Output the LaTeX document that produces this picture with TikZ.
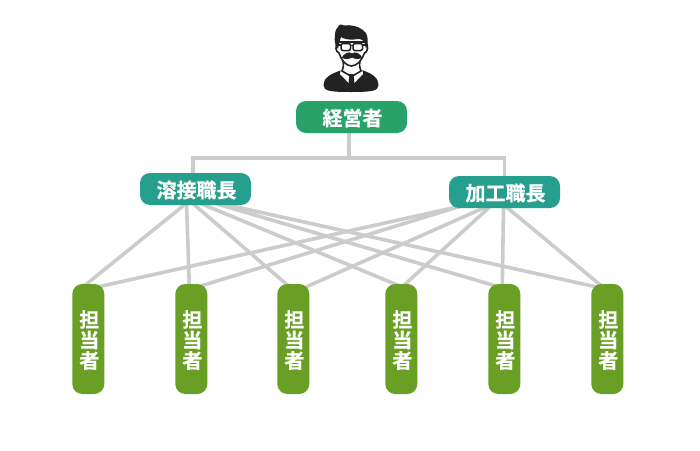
\documentclass[tikz,border=0pt]{standalone}
\usepackage{fontspec}
\newfontfamily\jpf[FakeBold=0.6]{Noto Sans CJK JP Bold}
\usetikzlibrary{calc,backgrounds}
\definecolor{topc}{HTML}{29A26A}
\definecolor{midc}{HTML}{279F8F}
\definecolor{lowc}{HTML}{699F24}
\definecolor{lnc}{HTML}{CCCCCC}
\definecolor{ink}{HTML}{222222}
\tikzset{
 hbox/.style={rounded corners=10pt,minimum width=111pt,minimum height=32pt,inner sep=0pt,text=white,text height=19pt,text depth=1.8pt,font=\jpf\fontsize{20}{21}\selectfont},
 wbox/.style={rounded corners=10pt,fill=lowc,minimum width=32pt,minimum height=110pt,inner sep=0pt,text=white,font=\jpf\fontsize{20}{20.5}\selectfont,align=center},
 conn/.style={draw=lnc,line width=3.6pt},
}
\newcommand{\nudge}{\hspace*{2pt}}
\begin{document}
\begin{tikzpicture}[x=1pt,y=-1pt]
\useasboundingbox (0,0) rectangle (700,450);
\node[hbox,fill=topc] (ceo) at (351.5,117) {\nudge 経営者};
\node[hbox,fill=midc] (ml) at (195.5,189) {\nudge 溶接職長};
\node[hbox,fill=midc] (mr) at (504.5,192) {\nudge 加工職長};
\foreach \n/\x in {a/88.3,b/191.3,c/293.3,d/401.3,e/504.3,f/607.3}
 \node[wbox] (\n) at (\x,339) {\rule{0pt}{21.2pt}\nudge 担\\\nudge 当\\\nudge 者\rule[-4pt]{0pt}{0pt}};
\begin{scope}[on background layer]
\fill[white] (0,0) rectangle (700,450);
\coordinate (j) at ($(ceo.south)+(-2.5,25)$);
\draw[conn] ($(ceo.south)+(-2.5,0)$) -- (j);
\draw[conn] ($(ml.north)+(-2.5,0)$) -- ($(ml.north)+(-2.5,-15)$) coordinate (jl) -- (jl -| mr.north) -- (mr.north);
\draw[conn] ($(ml.south)+(-9,-2)$) -- ($(a.north)+(-4,2)$);
\draw[conn] ($(ml.south)+(-9,-2)$) -- ($(b.north)+(-2,2)$);
\draw[conn] ($(ml.south)+(-3,-2)$) -- ($(c.north)+(-5,2)$);
\draw[conn] ($(ml.south)+(4.5,-2)$) -- ($(d.north)+(-2,2)$);
\draw[conn] ($(ml.south)+(19,-2)$) -- ($(e.north)+(-9,2)$);
\draw[conn] ($(ml.south)+(24,-2)$) -- ($(f.north)+(-7,4)$);
\draw[conn] ($(mr.south)+(-44,-2)$) -- ($(a.north)+(10,3)$);
\draw[conn] ($(mr.south)+(-44,-2)$) -- ($(b.north)+(10,2)$);
\draw[conn] ($(mr.south)+(-17,-2)$) -- ($(c.north)+(13,3)$);
\draw[conn] ($(mr.south)+(-14,-2)$) -- ($(d.north)+(2,2)$);
\draw[conn] ($(mr.south)+(-1,-2)$) -- ($(e.north)+(-2,2)$);
\draw[conn] ($(mr.south)+(1,-2)$) -- ($(f.north)+(-6,2)$);
\end{scope}
% person
\fill[ink] (323.5,85) .. controls (323.5,78) and (330,74) .. (342,70) -- (362,70) .. controls (373,74) and (378.5,78) .. (378.5,85) .. controls (378.5,91) and (372,92) .. (351,92) .. controls (330,92) and (323.5,91) .. (323.5,85) -- cycle;
\fill[white] (341,68) -- (340,74) -- (351.5,86) -- (363,74) -- (362,68) -- cycle;
\fill[ink] (349.5,74) -- (353.5,74) -- (354.5,84) -- (351.5,87) -- (348.5,84) -- cycle;
\draw[ink,line width=1.6pt] (343,61) .. controls (344,66) and (343,69) .. (342,71) -- (351.5,76.5) -- (361,71) .. controls (360,69) and (359,66) .. (360,61);
\draw[ink,line width=1.6pt,fill=white] (337.5,42) .. controls (335,46) and (335.5,52) .. (339,53) .. controls (341,60) and (346,66) .. (351.5,66) .. controls (357,66) and (362,60) .. (364.5,53) .. controls (368,52) and (368.5,46) .. (366,42) -- cycle;
\fill[ink] (338,49) .. controls (335,44) and (334,42) .. (335,35) .. controls (335,30) and (337,28) .. (338,27) .. controls (339,24) and (341,24) .. (344,25.5) .. controls (350,24.5) and (358,26) .. (363,30) .. controls (368,33) and (369,42) .. (366,49) -- (364.5,42.5) .. controls (362,38) and (358,39) .. (354,39.5) .. controls (349,40) and (344,39) .. (341,37) .. controls (340,40) and (339,44) .. (338,49) -- cycle;
\draw[ink,line width=1.5pt,rounded corners=2pt] (341,43.5) rectangle (350.5,50.5) (353,43.5) rectangle (362.5,50.5);
\draw[ink,line width=1.5pt] (338,45) -- (341,45) (350.5,45.5) -- (353,45.5) (362.5,45) -- (365.5,45);
\fill[ink] (341.5,58) .. controls (344,53) and (349,51) .. (352,53.5) .. controls (355,51) and (360,53) .. (362.5,58) .. controls (358,59.5) and (354,59) .. (352,57.5) .. controls (350,59) and (346,59.5) .. (341.5,58) -- cycle;
\end{tikzpicture}
\end{document}
